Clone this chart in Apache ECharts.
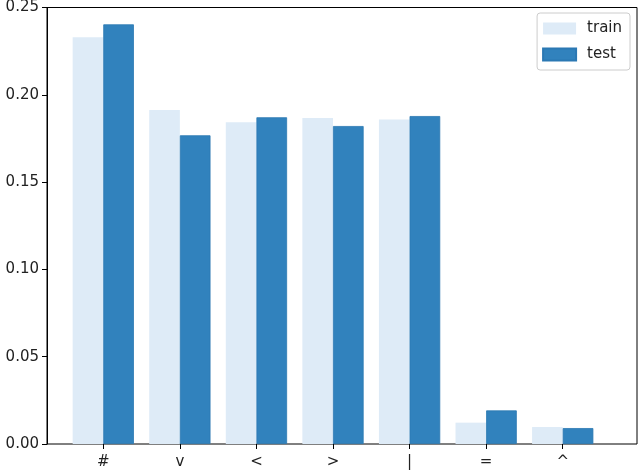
<!DOCTYPE html>
<html>
<head>
<meta charset="utf-8">
<script src="https://cdn.jsdelivr.net/npm/echarts@6/dist/echarts.min.js"></script>
<style>
  html, body { margin: 0; padding: 0; background: #fff; }
  #chart { width: 640px; height: 474px; }
</style>
</head>
<body>
<div id="chart"></div>
<script>
const categories = ['#', 'v', '<', '>', '|', '=', '^']
const trainValues = [0.2324, 0.1909, 0.1838, 0.1863, 0.1855, 0.0122, 0.0097]
const testValues = [0.2398, 0.1764, 0.1867, 0.1817, 0.1874, 0.0192, 0.0091]
const yTicks = [0, 0.05, 0.1, 0.15, 0.2, 0.25]

const font = 'DejaVu Sans'
const chart = echarts.init(document.getElementById('chart'))

const option = {
  animation: false,
  textStyle: { fontFamily: font },
  grid: [
    // bars
    { left: 65, right: 39, top: 6.5, bottom: 30 },
    // frame + y axis
    { left: 47, right: 3, top: 6.5, bottom: 30, show: true, borderColor: '#000', borderWidth: 1 }
  ],
  xAxis: [
    {
      type: 'category',
      gridIndex: 0,
      data: categories,
      axisLine: { show: false },
      axisTick: { show: true, alignWithLabel: true, length: 5, lineStyle: { color: '#000' } },
      axisLabel: { color: '#222', fontSize: 15, margin: 11, fontFamily: font }
    },
    {
      type: 'value',
      gridIndex: 1,
      show: false
    }
  ],
  yAxis: [
    {
      type: 'value',
      gridIndex: 0,
      min: 0,
      max: 0.25,
      show: false
    },
    {
      type: 'value',
      gridIndex: 1,
      min: 0,
      max: 0.25,
      interval: 0.05,
      axisLine: { show: true, lineStyle: { color: '#000' } },
      axisTick: { show: true, length: 5, lineStyle: { color: '#000' } },
      splitLine: { show: false },
      axisLabel: {
        color: '#222',
        fontSize: 15,
        margin: 8,
        fontFamily: font,
        formatter: v => yTicks.some(t => Math.abs(t - v) < 1e-9) ? v.toFixed(2) : ''
      }
    }
  ],
  legend: {
    orient: 'vertical',
    right: 10,
    top: 13,
    icon: 'rect',
    itemWidth: 33,
    itemHeight: 12,
    itemGap: 11,
    padding: [8, 8, 8, 5],
    borderColor: '#ccc',
    borderWidth: 1,
    borderRadius: 3,
    textStyle: { fontSize: 15, color: '#222', fontFamily: font, padding: [0, 0, 0, 6] },
    data: ['train', 'test']
  },
  series: [
    {
      name: 'train',
      type: 'bar',
      xAxisIndex: 0,
      yAxisIndex: 0,
      data: trainValues,
      barWidth: '40%',
      barGap: '0%',
      itemStyle: { color: '#deebf7' }
    },
    {
      name: 'test',
      type: 'bar',
      xAxisIndex: 0,
      yAxisIndex: 0,
      data: testValues,
      barWidth: '40%',
      barGap: '0%',
      itemStyle: { color: '#3182bd', borderColor: '#2b78b3', borderWidth: 0.8 }
    }
  ]
}

chart.setOption(option)
</script>
</body>
</html>
